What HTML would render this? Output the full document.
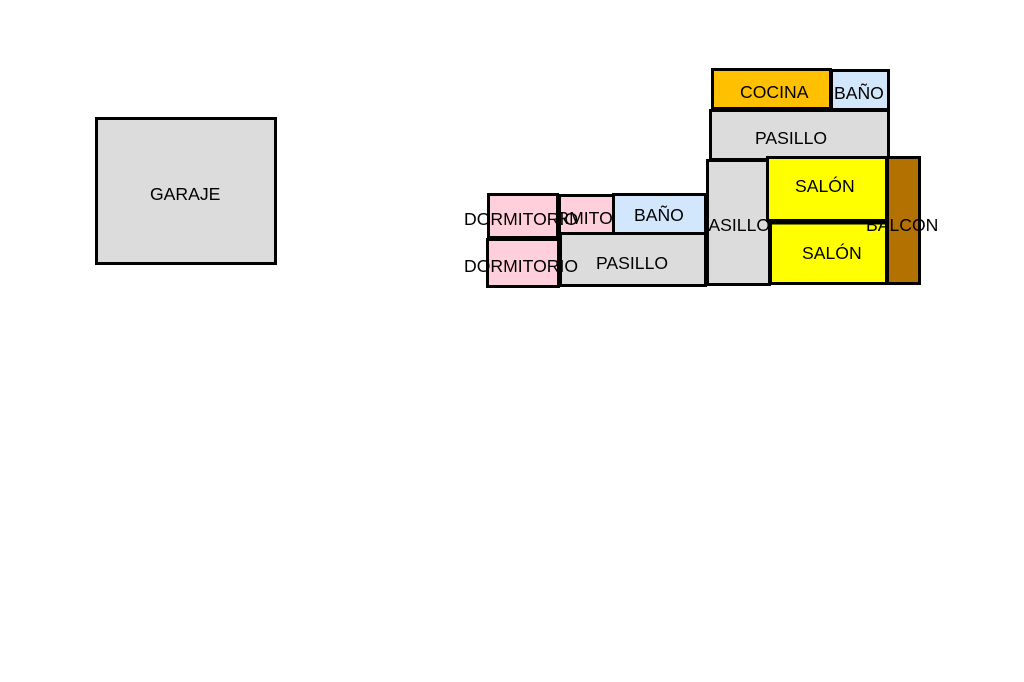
<!DOCTYPE html>
<html><head><meta charset="utf-8"><title>Plano</title>
<style>
html,body{margin:0;padding:0;background:#fff}
svg{display:block}
text{font-family:"Liberation Sans",Arial,sans-serif;font-size:17.6px;fill:#000}
rect{stroke:#000;stroke-width:3}
</style></head><body>
<svg width="1024" height="682" viewBox="0 0 1024 682" xmlns="http://www.w3.org/2000/svg">
<defs><clipPath id="c"><rect x="709" y="160" width="70" height="120" style="stroke:none"/></clipPath></defs>
<rect x="96.5" y="118.5" width="179" height="145" fill="#dcdcdc"/>
<text x="150" y="200">GARAJE</text>

<rect x="710.5" y="110.5" width="178" height="49" fill="#dcdcdc"/>
<text x="755" y="144">PASILLO</text>
<rect x="831.5" y="70.5" width="57" height="39" fill="#d2e7fb"/>
<text x="834" y="99">BAÑO</text>
<rect x="712.5" y="69.5" width="118" height="39" fill="#ffc000"/>
<text x="740" y="98">COCINA</text>

<rect x="707.5" y="160.5" width="62" height="124" fill="#dcdcdc"/>
<text x="698" y="231" clip-path="url(#c)">PASILLO</text>

<rect x="559.5" y="195.5" width="54" height="38" fill="#ffd0dc"/>
<text x="530" y="224">DORMITORIO</text>
<rect x="488.5" y="194.5" width="69" height="43" fill="#ffd0dc"/>
<rect x="613.5" y="194.5" width="92" height="39" fill="#d2e7fb"/>
<text x="634" y="221">BAÑO</text>
<rect x="560.5" y="233.5" width="145" height="52" fill="#dcdcdc"/>
<text x="596" y="269">PASILLO</text>
<rect x="487.5" y="239.5" width="71" height="47" fill="#ffd0dc"/>
<text x="464" y="225">DORMITORIO</text>
<text x="464" y="272">DORMITORIO</text>

<rect x="887.5" y="157.5" width="32" height="126" fill="#b27100"/>
<rect x="767.5" y="157.5" width="119" height="63" fill="#ffff00"/>
<text x="795" y="192">SALÓN</text>
<rect x="770.5" y="223" width="116" height="60.5" fill="#ffff00"/>
<text x="802" y="259">SALÓN</text>
<text x="866" y="231">BALCON</text>
</svg>
</body></html>
